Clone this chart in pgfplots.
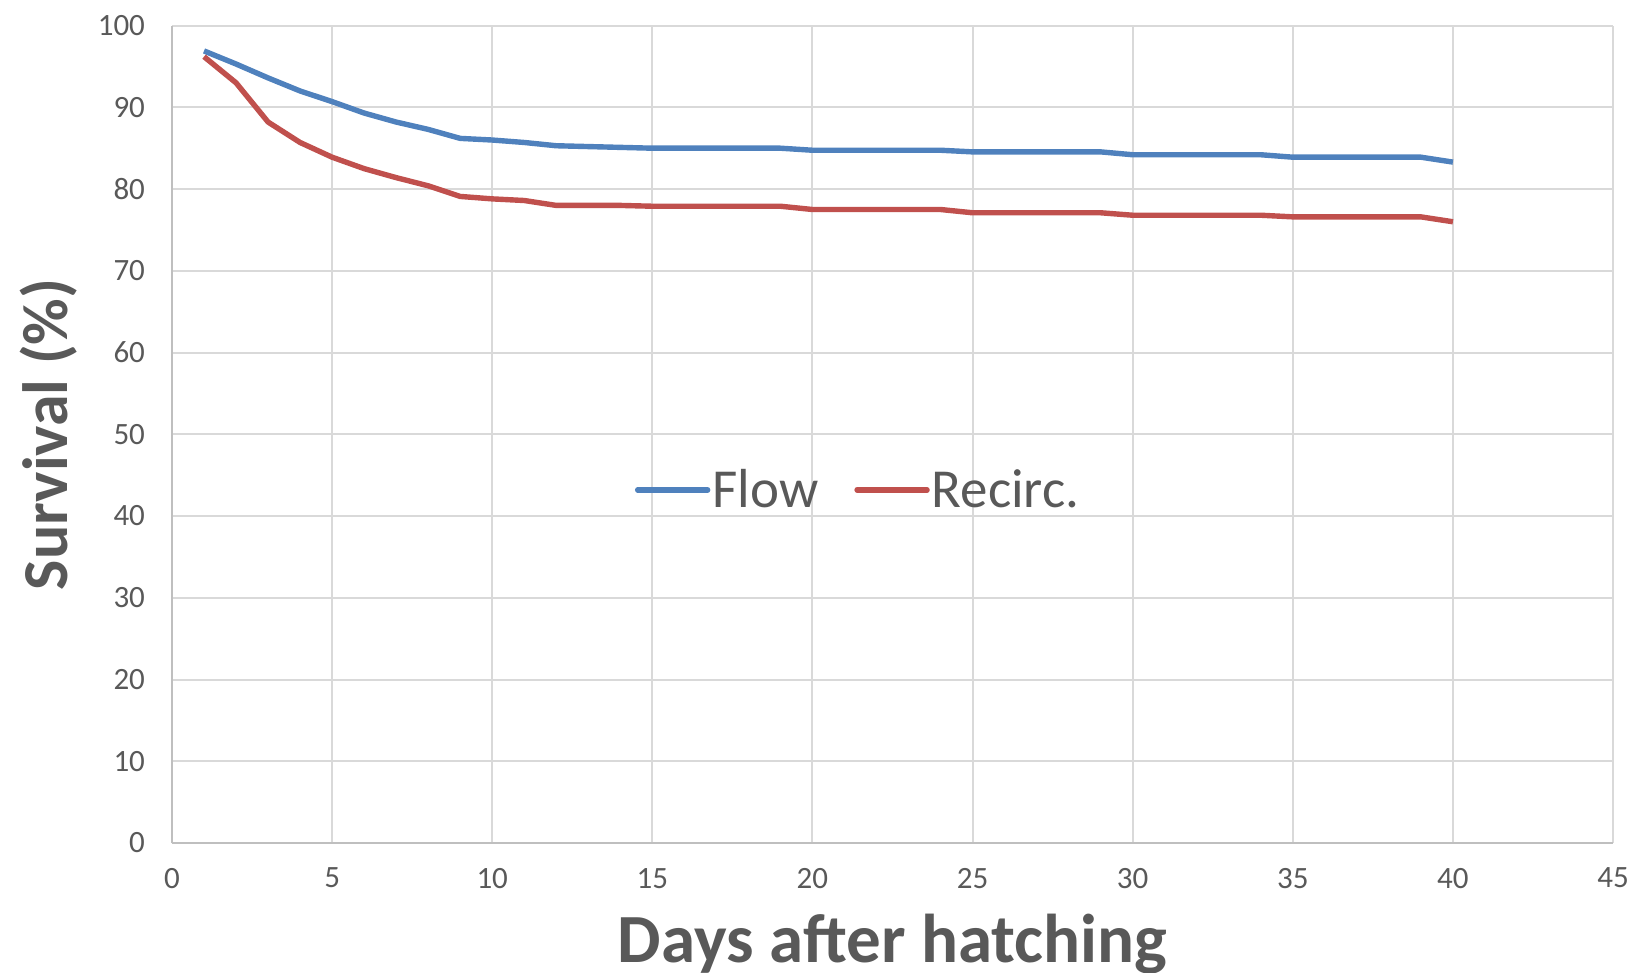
\documentclass[border=0pt]{standalone}
\usepackage{fontspec}
\setmainfont{Carlito}
\usepackage{pgfplots}
\pgfplotsset{compat=1.18}
\definecolor{txtgray}{HTML}{595959}
\definecolor{gridgray}{HTML}{D9D9D9}
\definecolor{axgray}{HTML}{BFBFBF}
\definecolor{flowblue}{HTML}{4F81BD}
\definecolor{recred}{HTML}{C0504D}
\begin{document}
\begin{tikzpicture}
\begin{axis}[
  name=ax,
  scale only axis,
  width=720.5pt, height=408.7pt,
  xmin=0, xmax=45, ymin=0, ymax=100,
  xtick={0,5,...,45}, ytick={0,10,...,100},
  axis x line*=bottom, axis y line*=left,
  axis line style={draw=axgray, line width=1pt},
  major tick length=0pt,
  grid=major,
  major grid style={draw=gridgray, line width=1pt},
  /pgf/number format/assume math mode=true,
  tick label style={font=\fontsize{15.5}{18}\selectfont, text=txtgray},
  yticklabel style={xshift=-10pt},
  xticklabel style={yshift=-9pt},
  xlabel={Days after hatching},
  ylabel={Survival (\%)},
  xlabel style={font=\fontsize{34.5}{40}\selectfont\bfseries, text=txtgray,
    at={(axis description cs:0.5,-0.146)}, anchor=base},
  ylabel style={font=\fontsize{32}{38}\selectfont\bfseries, text=txtgray,
    at={(axis description cs:-0.0722,0.5)}, anchor=base},
  legend columns=2,
  legend style={at={(axis description cs:0.321,0.432)}, anchor=west,
    draw=none, fill=none, inner sep=0pt,
    font=\fontsize{27.5}{31}\selectfont, text=txtgray,
    nodes={inner xsep=1pt, inner ysep=0pt},
    /tikz/every even column/.append style={column sep=17pt}},
  legend image code/.code={\draw[#1, line cap=round] (0pt,0pt) -- (35pt,0pt);},
]
\addplot[flowblue, line width=2.7pt, line join=round] coordinates {
(1,96.9) (2,95.3) (3,93.6) (4,92.0) (5,90.7) (6,89.3) (7,88.2) (8,87.3) (9,86.2) (10,86.0)
(11,85.7) (12,85.3) (13,85.2) (14,85.1) (15,85.0) (16,85.0) (17,85.0) (18,85.0) (19,85.0) (20,84.75)
(21,84.75) (22,84.75) (23,84.75) (24,84.75) (25,84.55) (26,84.55) (27,84.55) (28,84.55) (29,84.55) (30,84.2)
(31,84.2) (32,84.2) (33,84.2) (34,84.2) (35,83.9) (36,83.9) (37,83.9) (38,83.9) (39,83.9) (40,83.3)
};
\addlegendentry{Flow}
\addplot[recred, line width=2.7pt, line join=round] coordinates {
(1,96.2) (2,93.0) (3,88.2) (4,85.7) (5,83.9) (6,82.5) (7,81.4) (8,80.4) (9,79.1) (10,78.8)
(11,78.6) (12,78.0) (13,78.0) (14,78.0) (15,77.9) (16,77.9) (17,77.9) (18,77.9) (19,77.9) (20,77.5)
(21,77.5) (22,77.5) (23,77.5) (24,77.5) (25,77.1) (26,77.1) (27,77.1) (28,77.1) (29,77.1) (30,76.8)
(31,76.8) (32,76.8) (33,76.8) (34,76.8) (35,76.6) (36,76.6) (37,76.6) (38,76.6) (39,76.6) (40,76.0)
};
\addlegendentry{Recirc.}
\end{axis}
\pgfresetboundingbox
\path[use as bounding box] ([xshift=-86pt,yshift=-64.5pt]ax.south west) rectangle ([xshift=10.5pt,yshift=12.8pt]ax.north east);
\end{tikzpicture}
\end{document}
